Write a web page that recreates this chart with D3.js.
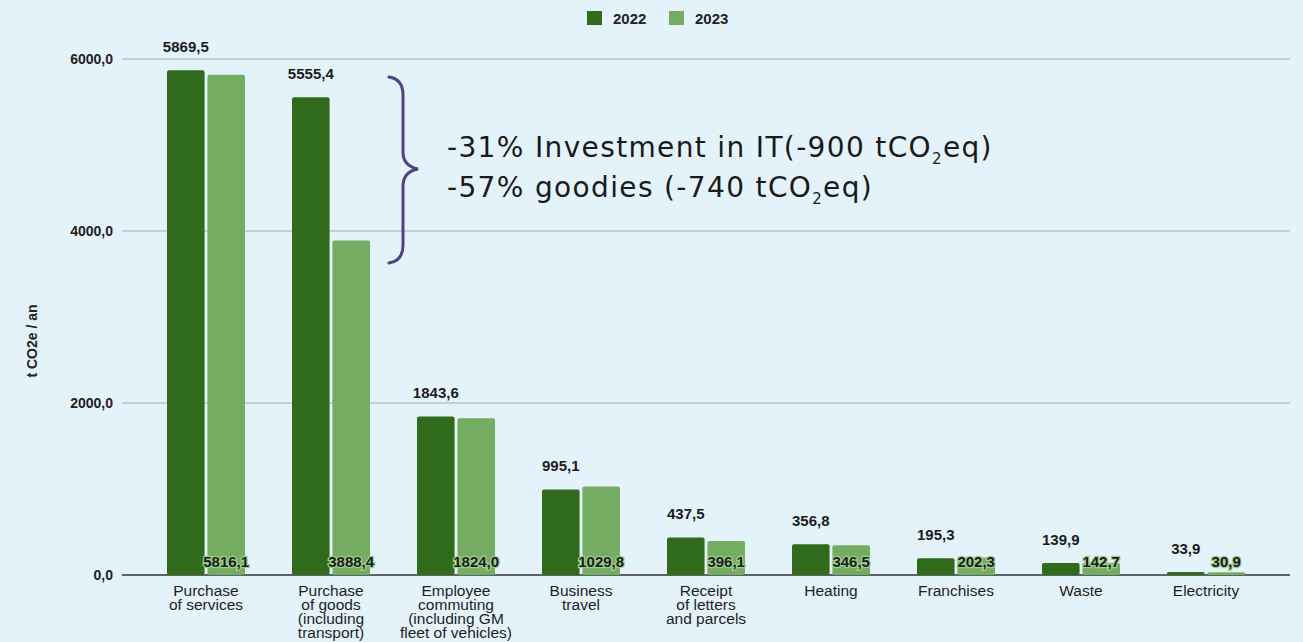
<!DOCTYPE html>
<html><head><meta charset="utf-8">
<script src="https://cdn.jsdelivr.net/npm/d3@7"></script>
<style>
html,body{margin:0;padding:0;background:#e4f2fa;}
svg{display:block;}
</style></head>
<body>
<svg id="chart" width="1303" height="642"></svg>
<script>
const categories = [
  ["Purchase","of services"],
  ["Purchase","of goods","(including","transport)"],
  ["Employee","commuting","(including GM","fleet of vehicles)"],
  ["Business","travel"],
  ["Receipt","of letters","and parcels"],
  ["Heating"],
  ["Franchises"],
  ["Waste"],
  ["Electricity"]
];
const years = ["2022","2023"];
const values2022 = [5869.5,5555.4,1843.6,995.1,437.5,356.8,195.3,139.9,33.9];
const values2023 = [5816.1,3888.4,1824.0,1029.8,396.1,346.5,202.3,142.7,30.9];
const yTicks = [0,2000,4000,6000];
const annotationLines = [
  ["-31% Investment in IT(-900 tCO","2","eq)"],
  ["-57% goodies (-740 tCO","2","eq)"]
];

const colors = {"2022":"#2f6b1b","2023":"#74ad62"};
const svg = d3.select("#chart");
const W = 1303, H = 642;
svg.append("rect").attr("width",W).attr("height",H).attr("fill","#e4f2fa");

const plotLeft = 122, plotRight = 1290;
const y = d3.scaleLinear().domain([0,6000]).range([575,59]);
const x0 = d3.scaleBand().domain(d3.range(categories.length))
  .range([143.5,1268.5]).paddingInner(0.376).paddingOuter(0.188);
const x1 = d3.scaleBand().domain(years).range([0,x0.bandwidth()]).paddingInner(0.07);
const fmt = v => d3.format(".1f")(v).replace(".",",");
const FONT = "Liberation Sans, Arial, sans-serif";

const grid = svg.append("g");
yTicks.forEach(t=>{
  grid.append("line").attr("x1",plotLeft).attr("x2",plotRight)
    .attr("y1",y(t)).attr("y2",y(t))
    .attr("stroke", t===0 ? "#333" : "#a3adb4")
    .attr("stroke-width", t===0 ? 1.6 : 1.2);
});
const yAxis = d3.axisLeft(y).tickValues(yTicks).tickFormat(fmt).tickSize(0).tickPadding(9);
const ya = svg.append("g").attr("transform",`translate(${plotLeft},0)`).call(yAxis);
ya.select(".domain").remove();
ya.selectAll("text").attr("font-family",FONT)
  .attr("font-size",14).attr("font-weight","bold").attr("fill","#222");

svg.append("text").attr("transform","translate(37,341) rotate(-90)")
  .attr("text-anchor","middle").attr("font-family",FONT)
  .attr("font-size",14).attr("font-weight","bold").attr("fill","#222").text("t CO2e / an");

const data = categories.map((c,i)=>({i, v:{"2022":values2022[i],"2023":values2023[i]}}));
const groups = svg.append("g").selectAll("g").data(data).join("g")
  .attr("transform",d=>`translate(${x0(d.i)},0)`);
years.forEach(yr=>{
  groups.append("rect")
    .attr("x",x1(yr)).attr("width",x1.bandwidth())
    .attr("y",d=>y(d.v[yr])).attr("height",d=>y(0)-y(d.v[yr]))
    .attr("rx",2).attr("fill",colors[yr]);
});
groups.append("text")
  .attr("x",x1("2022")+x1.bandwidth()/2).attr("y",d=>y(d.v["2022"])-18)
  .attr("text-anchor","middle").attr("font-family",FONT)
  .attr("font-size",15).attr("font-weight","bold").attr("fill","#1c1c1c")
  .text(d=>fmt(d.v["2022"]));
groups.append("text")
  .attr("x",x1("2023")+x1.bandwidth()/2).attr("y",567)
  .attr("text-anchor","middle").attr("font-family",FONT)
  .attr("font-size",15).attr("font-weight","bold").attr("fill","#1c1c1c")
  .attr("stroke","#9fcf8c").attr("stroke-width",2.5).attr("paint-order","stroke")
  .text(d=>fmt(d.v["2023"]));

groups.each(function(d){
  const g = d3.select(this);
  const t = g.append("text").attr("text-anchor","middle")
    .attr("font-family",FONT).attr("font-size",15.5)
    .attr("fill","#1e1e1e");
  categories[d.i].forEach((line,k)=>{
    t.append("tspan").attr("x",x0.bandwidth()/2).attr("y",596+k*14).text(line);
  });
});

const leg = svg.append("g");
years.forEach((yr,k)=>{
  const lx = 587 + k*82;
  leg.append("rect").attr("x",lx).attr("y",11).attr("width",15).attr("height",14).attr("fill",colors[yr]);
  leg.append("text").attr("x",lx+26).attr("y",23.5)
    .attr("font-family",FONT).attr("font-size",15)
    .attr("font-weight","bold").attr("fill","#222").text(yr);
});

svg.append("path")
  .attr("d","M389,77 Q403,79 403,95 L403,152 Q403,166 418,169 Q403,172 403,186 L403,245 Q403,261 389,263")
  .attr("fill","none").attr("stroke","#4e4580").attr("stroke-width",3).attr("stroke-linecap","round");

const targetW = [546, 426];
annotationLines.forEach((parts,k)=>{
  const t = svg.append("text").attr("x",447).attr("y",157+k*40)
    .attr("font-family","DejaVu Sans, sans-serif").attr("font-size",28).attr("fill","#1a1a1a");
  t.append("tspan").text(parts[0]);
  t.append("tspan").attr("font-size",15).attr("dy",7).text(parts[1]);
  t.append("tspan").attr("dy",-7).text(parts[2]);
  const len = t.node().getComputedTextLength();
  const n = parts.join("").length;
  t.attr("letter-spacing", ((targetW[k]-len)/n).toFixed(2));
});
</script>
</body></html>
